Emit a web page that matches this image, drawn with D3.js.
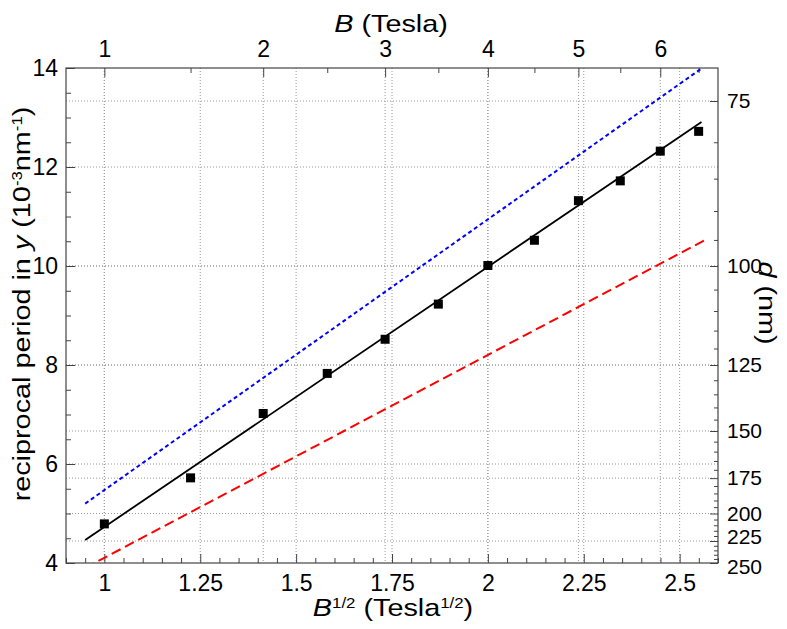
<!DOCTYPE html>
<html><head><meta charset="utf-8">
<script src="https://cdn.jsdelivr.net/npm/d3@7/dist/d3.min.js"></script>
<style>
html,body{margin:0;padding:0;background:#fff;}
svg{display:block;font-family:"Liberation Sans",Arial,sans-serif;}
</style></head>
<body><svg id="chart" width="787" height="629"></svg>
<script>
// ---- data ----
const fieldB = [1, 1.5, 2, 2.5, 3, 3.5, 4, 4.5, 5, 5.5, 6, 6.5];
const recipPeriod = [4.79, 5.72, 7.02, 7.83, 8.52, 9.23, 10.01, 10.52, 11.32, 11.72, 12.32, 12.72];
const fitLine = [[0.95, 4.465], [2.557, 12.91]];
const upperLine = [[0.95, 5.2], [2.557, 13.99]];
const lowerLine = [[0.95, 3.9], [2.565, 10.52]];
const bottomTicks = [1, 1.25, 1.5, 1.75, 2, 2.25, 2.5];
const topTicksB = [1, 2, 3, 4, 5, 6];
const topMinorB = [1.5, 2.5, 3.5, 4.5, 5.5, 6.5];
const leftTicks = [4, 6, 8, 10, 12, 14];
const rightTicksD = [75, 100, 125, 150, 175, 200, 225, 250];

(function () {
const svg = d3.select("#chart");
const L = 66, R = 718, T = 68, B = 563;
const x = d3.scaleLinear().domain([0.9, 2.6]).range([L, R]);
const y = d3.scaleLinear().domain([4, 14]).range([B, T]);

const fs = 23, tfs = 24, stretch = 1.2;
const gridColor = "#999";
svg.append("defs").append("clipPath").attr("id", "clip")
  .append("rect").attr("x", L).attr("y", T).attr("width", R - L).attr("height", B - T);

// gridlines
const grid = svg.append("g").attr("stroke", gridColor).attr("stroke-width", 1).attr("stroke-dasharray", "1,2");
const vGrid = bottomTicks.concat(topTicksB.map(Math.sqrt));
vGrid.forEach(v => grid.append("line").attr("x1", x(v)).attr("x2", x(v)).attr("y1", T).attr("y2", B));
const hGrid = leftTicks.slice(1, -1).concat(rightTicksD.slice(0, -1).map(d => 1000 / d));
hGrid.forEach(v => grid.append("line").attr("y1", y(v)).attr("y2", y(v)).attr("x1", L).attr("x2", R));

function styleAxis(g) {
  g.select(".domain").remove();
  g.selectAll(".tick line").attr("stroke", "#444");
  g.selectAll("text").attr("font-size", fs).attr("fill", "#000").attr("font-family", "Liberation Sans, Arial, sans-serif");
}
const minorBottom = d3.range(0.9, 2.601, 0.05).map(v => +v.toFixed(2)).filter(v => !bottomTicks.includes(v));
svg.append("g").attr("transform", `translate(0,${B})`)
  .call(d3.axisBottom(x).tickValues(minorBottom).tickSize(-5).tickFormat("")).call(styleAxis);
svg.append("g").attr("transform", `translate(0,${B})`)
  .call(d3.axisBottom(x).tickValues(bottomTicks).tickSize(-9).tickPadding(12).tickFormat(d3.format("~g"))).call(styleAxis);

svg.append("g").attr("transform", `translate(0,${T})`)
  .call(d3.axisTop(x).tickValues(topMinorB.map(Math.sqrt)).tickSize(-5).tickFormat("")).call(styleAxis);
svg.append("g").attr("transform", `translate(0,${T})`)
  .call(d3.axisTop(x).tickValues(topTicksB.map(Math.sqrt)).tickSize(-9).tickPadding(11)
    .tickFormat((d, i) => topTicksB[i])).call(styleAxis);

const minorLeft = d3.range(4, 14.01, 0.5).filter(v => !leftTicks.includes(v));
svg.append("g").attr("transform", `translate(${L},0)`)
  .call(d3.axisLeft(y).tickValues(minorLeft).tickSize(-5).tickFormat("")).call(styleAxis);
svg.append("g").attr("transform", `translate(${L},0)`)
  .call(d3.axisLeft(y).tickValues(leftTicks).tickSize(-9).tickPadding(8).tickFormat(d3.format("d"))).call(styleAxis);

const minorRightD = d3.range(75, 251, 5).filter(v => !rightTicksD.includes(v));
svg.append("g").attr("transform", `translate(${R},0)`)
  .call(d3.axisRight(y).tickValues(minorRightD.map(d => 1000 / d)).tickSize(-4).tickFormat("")).call(styleAxis);
const rAxis = svg.append("g").attr("transform", `translate(${R},0)`)
  .call(d3.axisRight(y).tickValues(rightTicksD.map(d => 1000 / d)).tickSize(-8).tickPadding(9)
    .tickFormat((d, i) => rightTicksD[i])).call(styleAxis);
rAxis.selectAll("text").attr("font-size", 21)
  .attr("dy", (d, i) => i === rightTicksD.length - 2 ? "0.12em" : i === rightTicksD.length - 1 ? "0.5em" : "0.32em");

svg.append("rect").attr("x", L).attr("y", T).attr("width", R - L).attr("height", B - T)
  .attr("fill", "none").attr("stroke", "#444").attr("stroke-width", 1.2);

const line = d3.line().x(d => x(d[0])).y(d => y(d[1]));
const plot = svg.append("g").attr("clip-path", "url(#clip)");
plot.append("path").datum(upperLine).attr("d", line).attr("fill", "none")
  .attr("stroke", "#0000ff").attr("stroke-width", 2).attr("stroke-dasharray", "4,3");
plot.append("path").datum(lowerLine).attr("d", line).attr("fill", "none")
  .attr("stroke", "#ff0000").attr("stroke-width", 2).attr("stroke-dasharray", "10,5");
plot.append("path").datum(fitLine).attr("d", line).attr("fill", "none")
  .attr("stroke", "#000").attr("stroke-width", 1.8);

const sq = 9;
svg.append("g").selectAll("rect").data(fieldB.map((b, i) => [Math.sqrt(b), recipPeriod[i]]))
  .join("rect").attr("x", d => x(d[0]) - sq / 2).attr("y", d => y(d[1]) - sq / 2)
  .attr("width", sq).attr("height", sq).attr("fill", "#000");

const sup = 14, raise = 8;
const tt = svg.append("text").attr("transform", `translate(391,32) scale(${stretch},1)`).attr("text-anchor", "middle").attr("font-size", tfs);
tt.append("tspan").attr("font-style", "italic").text("B");
tt.append("tspan").text(" (Tesla)");

const bt = svg.append("text").attr("transform", `translate(393,616) scale(${stretch},1)`).attr("text-anchor", "middle").attr("font-size", tfs);
bt.append("tspan").attr("font-style", "italic").text("B");
bt.append("tspan").attr("font-size", sup).attr("dy", -raise).text("1/2");
bt.append("tspan").attr("dy", raise).text(" (Tesla");
bt.append("tspan").attr("font-size", sup).attr("dy", -raise).text("1/2");
bt.append("tspan").attr("dy", raise).text(")");

const lt = svg.append("text").attr("transform", `translate(30,304) rotate(-90) scale(${stretch},1)`).attr("text-anchor", "middle").attr("font-size", tfs);
lt.append("tspan").text("reciprocal period in ");
lt.append("tspan").attr("font-style", "italic").text("y");
lt.append("tspan").text(" (10");
lt.append("tspan").attr("font-size", sup).attr("dy", -raise).text("-3");
lt.append("tspan").attr("dy", raise).text("nm");
lt.append("tspan").attr("font-size", sup).attr("dy", -raise).text("-1");
lt.append("tspan").attr("dy", raise).text(")");

const rt = svg.append("text").attr("transform", `translate(759,303) rotate(90) scale(${stretch},1)`).attr("text-anchor", "middle").attr("font-size", tfs);
rt.append("tspan").attr("font-style", "italic").text("d");
rt.append("tspan").text(" (nm)");
})();
</script></body></html>
